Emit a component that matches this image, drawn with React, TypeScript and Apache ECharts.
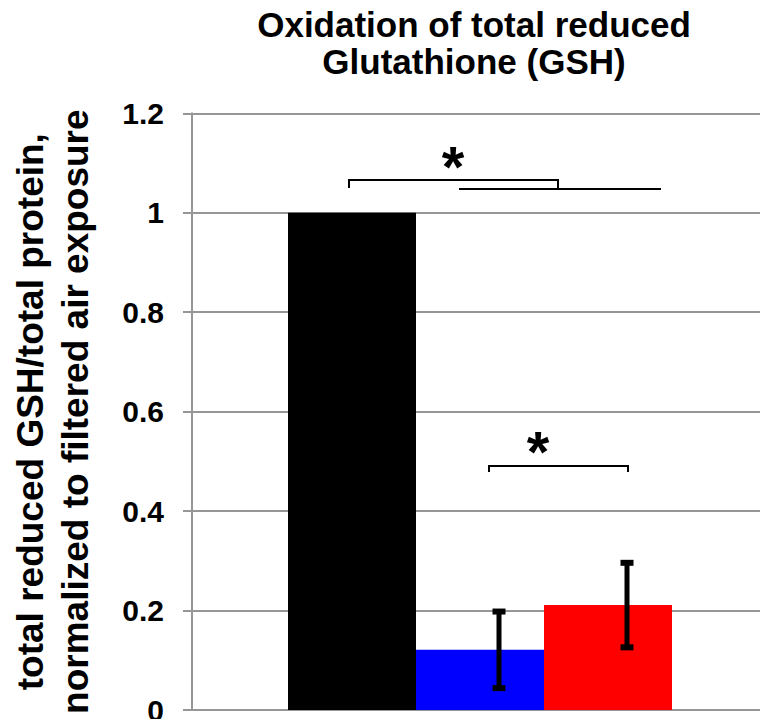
import React, { useEffect, useRef } from "react";
import * as echarts from "echarts";

const categories = ["GSH"];
const seriesNames = ["Filtered air", "Exposure 1", "Exposure 2"];
const means = [1.0, 0.121, 0.211];
const errors = [0, 0.077, 0.085];
const colors = ["#000000", "#0000ff", "#ff0000"];
const yMin = 0;
const yMax = 1.2;
const yInterval = 0.2;

const FONT = "'Liberation Sans', Arial, sans-serif";
const BAR_W = 128;

export default function App() {
  const ref = useRef<HTMLDivElement>(null);
  useEffect(() => {
    if (!ref.current) return;
    const chart = echarts.init(ref.current, null, { renderer: "svg" });

    const barSeries = seriesNames.map((name, i) => ({
      name,
      type: "bar",
      data: [means[i]],
      barWidth: BAR_W,
      barGap: "0%",
      itemStyle: { color: colors[i] },
      z: 2,
    }));

    const errData = means
      .map((m, i) => ({ i, m, e: errors[i] }))
      .filter((d) => d.e > 0)
      .map((d) => [0, d.m - d.e, d.m + d.e, d.i]);

    const errorSeries = {
      type: "custom",
      name: "error",
      data: errData,
      z: 5,
      clip: false,
      renderItem: (params: any, api: any) => {
        const idx = api.value(3);
        const lo = api.coord([api.value(0), api.value(1)]);
        const hi = api.coord([api.value(0), api.value(2)]);
        const x = lo[0] + (idx - 1) * BAR_W + 19;
        const capW = 13;
        const capH = 6;
        return {
          type: "group",
          children: [
            {
              type: "rect",
              shape: { x: x - 2.5, y: hi[1], width: 5, height: lo[1] - hi[1] },
              style: { fill: "#000" },
            },
            {
              type: "rect",
              shape: { x: x - capW / 2, y: hi[1] - capH / 2, width: capW, height: capH },
              style: { fill: "#000" },
            },
            {
              type: "rect",
              shape: { x: x - capW / 2, y: lo[1] - capH / 2, width: capW, height: capH },
              style: { fill: "#000" },
            },
          ],
        };
      },
    };

    const lineStyle = { stroke: "#000", lineWidth: 2 };
    const starStyle = {
      text: "*",
      fill: "#000",
      font: `bold 58px ${FONT}`,
      textAlign: "center",
      textVerticalAlign: "middle",
    };

    chart.setOption({
      animation: false,
      title: {
        text: "Oxidation of total reduced\nGlutathione (GSH)",
        left: 474,
        top: 6,
        padding: 0,
        textAlign: "center",
        textStyle: {
          fontFamily: FONT,
          fontSize: 35,
          fontWeight: "bold",
          lineHeight: 37,
          color: "#000",
        },
      },
      grid: { left: 192, right: 0, top: 113.3, bottom: 9, containLabel: false, outerBoundsMode: "none" },
      xAxis: {
        type: "category",
        data: categories,
        axisLine: { show: true, lineStyle: { color: "#969696", width: 2 } },
        axisTick: { show: false },
        axisLabel: { show: false },
      },
      yAxis: {
        type: "value",
        min: yMin,
        max: yMax,
        interval: yInterval,
        name: "total reduced GSH/total protein,\nnormalized to filtered air exposure",
        nameLocation: "middle",
        nameRotate: 90,
        nameGap: 94,
        nameTextStyle: {
          fontFamily: FONT,
          fontSize: 37,
          fontWeight: "bold",
          lineHeight: 45,
          color: "#000",
        },
        axisLine: { show: true, lineStyle: { color: "#969696", width: 2 } },
        axisTick: { show: true, length: 9, inside: false, lineStyle: { color: "#969696", width: 2 } },
        splitLine: { show: true, lineStyle: { color: "#969696", width: 2 } },
        axisLabel: {
          fontFamily: FONT,
          fontSize: 30,
          fontWeight: "bold",
          color: "#000",
          margin: 28,
          formatter: (v: number) => String(Math.round(v * 10) / 10),
        },
      },
      series: [...barSeries, errorSeries],
      graphic: [
        { type: "polyline", shape: { points: [[349, 188], [349, 180], [558, 180], [558, 188]] }, style: { ...lineStyle, fill: null }, z: 10 },
        { type: "line", shape: { x1: 459, y1: 189, x2: 661, y2: 189 }, style: lineStyle, z: 10 },
        { type: "text", x: 453, y: 166, style: starStyle, z: 10 },
        { type: "polyline", shape: { points: [[489, 472], [489, 466], [628, 466], [628, 472]] }, style: { ...lineStyle, fill: null }, z: 10 },
        { type: "text", x: 538, y: 451, style: starStyle, z: 10 },
      ],
    });
    return () => chart.dispose();
  }, []);
  return (
    <div
      style={{ position: "fixed", left: 0, top: 0, width: 760, height: 719, overflow: "hidden", background: "#fff" }}
    >
      <div ref={ref} style={{ width: 768, height: 719 }} />
    </div>
  );
}
